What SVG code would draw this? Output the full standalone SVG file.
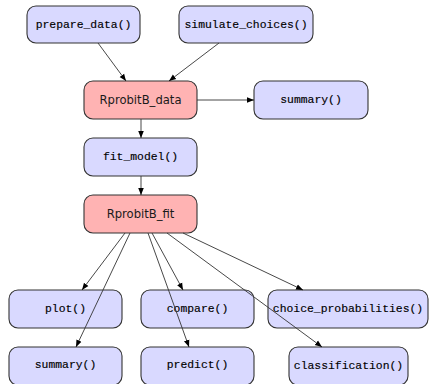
<svg xmlns="http://www.w3.org/2000/svg" width="429" height="384" viewBox="0 0 429 384">
  <style>
    .node rect { stroke: #333333; stroke-width: 1.1; }
    .fn rect { fill: #d9d9ff; }
    .obj rect { fill: #ffb3b3; }
    .fn text { font-family: "Liberation Mono", "DejaVu Sans Mono", monospace; font-size: 11.4px; fill: #000000; stroke: #000000; stroke-width: 0.15; text-anchor: middle; dominant-baseline: central; }
    .obj text { font-family: "DejaVu Sans", "Noto Sans", sans-serif; font-size: 11.6px; fill: #1a1a1a; text-anchor: middle; dominant-baseline: central; }
    .edges line { stroke: #333333; stroke-width: 0.9; marker-end: url(#arrow); }
  </style>
  <defs>
    <marker id="arrow" viewBox="0 0 10 10" refX="10" refY="5" markerWidth="7" markerHeight="7" markerUnits="userSpaceOnUse" orient="auto">
      <path d="M0,1 L10,5 L0,9 Z" fill="#000000"/>
    </marker>
  </defs>

  <rect width="429" height="384" fill="#ffffff"/>

  <!-- nodes -->
  <g id="prepare_data" class="node fn">
    <rect x="27" y="6" width="113" height="37" rx="9"/>
    <text x="83.5" y="24.5">prepare_data()</text>
  </g>
  <g id="simulate_choices" class="node fn">
    <rect x="179" y="6" width="134" height="37" rx="9"/>
    <text x="246" y="24.5">simulate_choices()</text>
  </g>
  <g id="RprobitB_data" class="node obj">
    <rect x="84" y="81" width="113" height="38" rx="9"/>
    <text x="140.5" y="100">RprobitB_data</text>
  </g>
  <g id="summary_data" class="node fn">
    <rect x="254" y="81" width="114" height="38" rx="9"/>
    <text x="311" y="100">summary()</text>
  </g>
  <g id="fit_model" class="node fn">
    <rect x="84" y="138" width="113" height="38" rx="9"/>
    <text x="140.5" y="157">fit_model()</text>
  </g>
  <g id="RprobitB_fit" class="node obj">
    <rect x="84" y="195" width="113" height="38" rx="9"/>
    <text x="140.5" y="214">RprobitB_fit</text>
  </g>
  <g id="plot" class="node fn">
    <rect x="9" y="290" width="113" height="38" rx="9"/>
    <text x="65.5" y="309">plot()</text>
  </g>
  <g id="compare" class="node fn">
    <rect x="141" y="290" width="113" height="38" rx="9"/>
    <text x="197.5" y="309">compare()</text>
  </g>
  <g id="choice_probabilities" class="node fn">
    <rect x="268" y="290" width="160" height="38" rx="9"/>
    <text x="348" y="309">choice_probabilities()</text>
  </g>
  <g id="summary_fit" class="node fn">
    <rect x="9" y="347" width="113" height="38" rx="9"/>
    <text x="65.5" y="365">summary()</text>
  </g>
  <g id="predict" class="node fn">
    <rect x="141" y="347" width="113" height="38" rx="9"/>
    <text x="197.5" y="365">predict()</text>
  </g>
  <g id="classification" class="node fn">
    <rect x="289" y="347" width="119" height="38" rx="9"/>
    <text x="348.5" y="366">classification()</text>
  </g>

  <!-- connectors -->
  <g id="connectors" class="edges">
    <line x1="98" y1="43" x2="126" y2="81"/>
    <line x1="219" y1="43" x2="169" y2="81"/>
    <line x1="197" y1="100" x2="254" y2="100"/>
    <line x1="141" y1="119" x2="141" y2="138"/>
    <line x1="141" y1="176" x2="141" y2="195"/>
    <line x1="125" y1="233" x2="82" y2="290"/>
    <line x1="130" y1="233" x2="76" y2="347"/>
    <line x1="152" y1="233" x2="183" y2="290"/>
    <line x1="148" y1="233" x2="189" y2="347"/>
    <line x1="183" y1="233" x2="303" y2="290"/>
    <line x1="167" y1="233" x2="322" y2="347"/>
  </g>
</svg>
